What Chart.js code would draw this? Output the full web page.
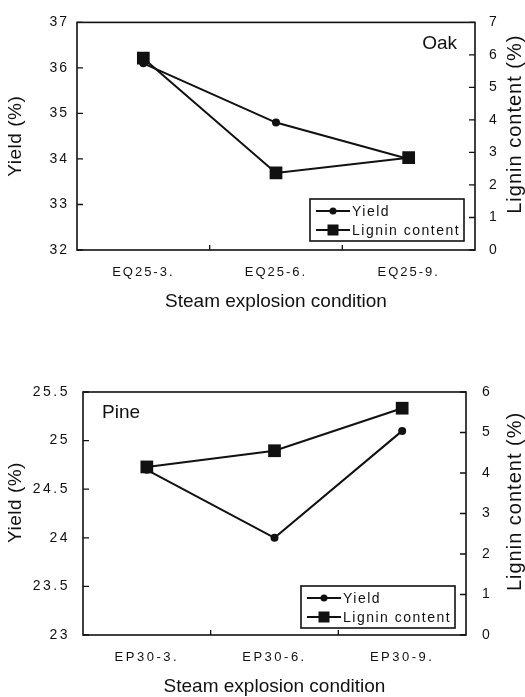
<!DOCTYPE html>
<html>
<head>
<meta charset="utf-8">
<script src="https://cdn.jsdelivr.net/npm/chart.js@4.4.1/dist/chart.umd.min.js"></script>
<style>
  html, body { margin: 0; padding: 0; background: #fff; }
  body { width: 525px; height: 697px; position: relative; overflow: hidden; }
  canvas { position: absolute; left: 0; }
  #oak { top: 0; }
  #pine { top: 340px; }
</style>
</head>
<body>
<canvas id="oak" width="525" height="330"></canvas>
<canvas id="pine" width="525" height="357"></canvas>
<script>
// values
var oakLabels = ['EQ25-3.', 'EQ25-6.', 'EQ25-9.'];
var oakYield = [36.1, 34.8, 34.0];
var oakLignin = [5.9, 2.37, 2.84];
var oakYieldTicks = [32, 33, 34, 35, 36, 37];
var oakLigninTicks = [0, 1, 2, 3, 4, 5, 6, 7];

var pineLabels = ['EP30-3.', 'EP30-6.', 'EP30-9.'];
var pineYield = [24.7, 24.0, 25.1];
var pineLignin = [4.15, 4.55, 5.6];
var pineYieldTicks = [23, 23.5, 24, 24.5, 25, 25.5];
var pineLigninTicks = [0, 1, 2, 3, 4, 5, 6];

var ink = '#111';
var family = "'Liberation Sans', Arial, sans-serif";

function useTicks(list) {
  return function (scale) {
    scale.ticks = list.map(function (v) { return { value: v }; });
  };
}

// frame, inward tick marks, titles and the boxed legend
var framePlugin = {
  id: 'frame',
  beforeDraw: function (chart, args, o) {
    chart.ctx.letterSpacing = o.tickSpacing;
  },
  beforeDatasetsDraw: function (chart) {
    chart.ctx.letterSpacing = '0px';
  },
  afterDraw: function (chart, args, o) {
    var ctx = chart.ctx, a = chart.chartArea;
    var sx = chart.scales.x, sy = chart.scales.y, sy1 = chart.scales.y1;
    ctx.save();
    ctx.letterSpacing = '0px';
    ctx.strokeStyle = ink;
    ctx.lineWidth = 1.6;
    ctx.strokeRect(a.left, a.top, a.right - a.left, a.bottom - a.top);

    ctx.lineWidth = 1.3;
    ctx.beginPath();
    sy.ticks.forEach(function (t) {
      var p = sy.getPixelForValue(t.value);
      ctx.moveTo(a.left, p); ctx.lineTo(a.left + 6, p);
    });
    sy1.ticks.forEach(function (t) {
      var p = sy1.getPixelForValue(t.value);
      ctx.moveTo(a.right, p); ctx.lineTo(a.right - 6, p);
    });
    for (var i = 0; i < sx.ticks.length - 1; i++) {
      var b = (sx.getPixelForTick(i) + sx.getPixelForTick(i + 1)) / 2;
      ctx.moveTo(b, a.bottom); ctx.lineTo(b, a.bottom - 5);
    }
    ctx.stroke();

    // axis titles
    ctx.fillStyle = ink;
    ctx.font = '19px ' + family;
    ctx.textAlign = 'center';
    ctx.textBaseline = 'middle';
    var cy = (a.top + a.bottom) / 2;
    ctx.fillText('Steam explosion condition', (a.left + a.right) / 2, o.xTitleY);
    ctx.save();
    ctx.translate(16, cy + o.leftShift); ctx.rotate(-Math.PI / 2);
    ctx.letterSpacing = '0.5px';
    ctx.fillText('Yield (%)', 0, 0);
    ctx.restore();
    ctx.save();
    ctx.translate(515, cy - 12); ctx.rotate(-Math.PI / 2);
    ctx.font = '20px ' + family;
    ctx.letterSpacing = '1px';
    ctx.fillText('Lignin content (%)', 0, 0);
    ctx.restore();

    // panel name
    ctx.font = '19px ' + family;
    if (o.panelAlign === 'right') {
      ctx.textAlign = 'right';
      ctx.fillText(o.panel, a.right - 18, a.top + 21);
    } else {
      ctx.textAlign = 'left';
      ctx.fillText(o.panel, a.left + 19, a.top + 21);
    }

    // legend box
    var w = 154, h = 42;
    var bx = a.right - 11 - w, by = a.bottom - o.legendGap - h;
    ctx.lineWidth = 1.6;
    ctx.strokeRect(bx, by, w, h);
    ctx.font = '14px ' + family;
    ctx.letterSpacing = '1.5px';
    ctx.textAlign = 'left';
    chart.data.datasets.forEach(function (ds, k) {
      var ry = by + 12 + k * 19;
      ctx.lineWidth = 1.8;
      ctx.beginPath();
      ctx.moveTo(bx + 6, ry); ctx.lineTo(bx + 40, ry);
      ctx.stroke();
      if (ds.pointStyle === 'rect') {
        ctx.fillRect(bx + 23 - 5.5, ry - 5.5, 11, 11);
      } else {
        ctx.beginPath();
        ctx.arc(bx + 23, ry, 3.5, 0, Math.PI * 2);
        ctx.fill();
      }
      ctx.fillText(ds.label, bx + 42, ry + 1);
    });
    ctx.restore();
  }
};

function makeChart(id, cfg) {
  var xFont = { family: family, size: 13 };
  var yFont = { family: family, size: 14 };
  return new Chart(document.getElementById(id), {
    type: 'line',
    data: {
      labels: cfg.labels,
      datasets: [{
        label: 'Yield',
        data: cfg.yieldData,
        yAxisID: 'y',
        borderColor: ink,
        backgroundColor: ink,
        borderWidth: 2,
        pointStyle: 'circle',
        pointRadius: 4,
        pointBorderWidth: 0,
        tension: 0
      }, {
        label: 'Lignin content',
        data: cfg.ligninData,
        yAxisID: 'y1',
        borderColor: ink,
        backgroundColor: ink,
        borderWidth: 2,
        pointStyle: 'rect',
        pointRadius: 9,
        pointBorderWidth: 0,
        tension: 0
      }]
    },
    options: {
      responsive: false,
      animation: false,
      devicePixelRatio: 1,
      layout: { padding: { top: cfg.top, bottom: 0, left: 0, right: 0 } },
      plugins: {
        legend: { display: false },
        tooltip: { enabled: false },
        frame: {
          panel: cfg.panel,
          panelAlign: cfg.panelAlign,
          xTitleY: cfg.xTitleY,
          leftShift: cfg.leftShift,
          legendGap: cfg.legendGap,
          tickSpacing: cfg.tickSpacing
        }
      },
      scales: {
        x: {
          type: 'category',
          offset: true,
          grid: { display: false, drawTicks: false },
          border: { display: false },
          ticks: { color: ink, font: xFont, padding: cfg.xPad, maxRotation: 0 },
          afterFit: function (s) { s.height = cfg.xHeight; }
        },
        y: {
          position: 'left',
          min: cfg.yTicks[0],
          max: cfg.yTicks[cfg.yTicks.length - 1],
          grid: { display: false, drawTicks: false },
          border: { display: false },
          ticks: { color: ink, font: yFont, padding: cfg.yPad, callback: function (v) { return String(v); } },
          afterBuildTicks: useTicks(cfg.yTicks),
          afterFit: function (s) { s.width = cfg.leftW; }
        },
        y1: {
          position: 'right',
          min: cfg.y1Ticks[0],
          max: cfg.y1Ticks[cfg.y1Ticks.length - 1],
          grid: { display: false, drawTicks: false },
          border: { display: false },
          ticks: { color: ink, font: yFont, padding: cfg.y1Pad, callback: function (v) { return String(v); } },
          afterBuildTicks: useTicks(cfg.y1Ticks),
          afterFit: function (s) { s.width = cfg.rightW; }
        }
      }
    },
    plugins: [framePlugin]
  });
}

makeChart('oak', {
  labels: oakLabels, yieldData: oakYield, ligninData: oakLignin,
  yTicks: oakYieldTicks, y1Ticks: oakLigninTicks,
  panel: 'Oak', panelAlign: 'right',
  top: 12, xHeight: 80, leftW: 77, rightW: 50,
  xPad: 15, yPad: 8, y1Pad: 14, xTitleY: 302, leftShift: 0, legendGap: 9, tickSpacing: '2px'
});

makeChart('pine', {
  labels: pineLabels, yieldData: pineYield, ligninData: pineLignin,
  yTicks: pineYieldTicks, y1Ticks: pineLigninTicks,
  panel: 'Pine', panelAlign: 'left',
  top: 52, xHeight: 62, leftW: 83, rightW: 59,
  xPad: 15, yPad: 13, y1Pad: 16, xTitleY: 347, leftShift: -11, legendGap: 7, tickSpacing: '2.5px'
});
</script>
</body>
</html>
